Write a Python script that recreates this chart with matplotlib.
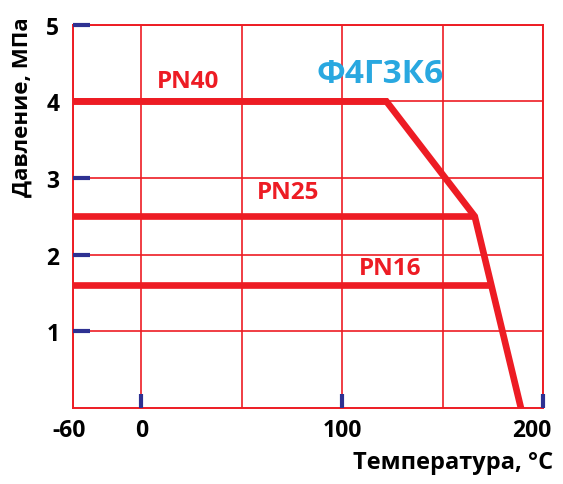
import numpy as np
import matplotlib
matplotlib.use("Agg")
import matplotlib.pyplot as plt
from matplotlib.transforms import ScaledTranslation

# data
pn_labels = ["PN40", "PN25", "PN16"]
pn_values = [4.0, 2.5, 1.6]
pn_t_end = [122, 166, 174]          # where each horizontal limit meets the slope
envelope_t = [-60, 122, 166, 189]
envelope_p = [4.0, 4.0, 2.5, 0.0]
label_t = [23, 73, 124]
label_p = [4.27, 2.82, 1.83]
xticks = [-60, 0, 100, 200]
xminor = [50, 150]
yticks = [1, 2, 3, 4, 5]

RED = "#ed1c24"
BLUE = "#2e3192"
CYAN = "#29a8e0"

plt.rcParams['font.family'] = ['Open Sans', 'DejaVu Sans']
plt.rcParams['axes.unicode_minus'] = False

# the sub-zero part of the axis is compressed
K = 0.565
def fwd(x):
    x = np.asarray(x, dtype=float)
    return np.where(x >= 0, x, x * K)
def inv(x):
    x = np.asarray(x, dtype=float)
    return np.where(x >= 0, x, x / K)

fig = plt.figure(figsize=(5.63, 4.85), dpi=100)
ax = fig.add_axes([0.1302, 0.1567, 0.8343, 0.7903])
ax.set_xscale('function', functions=(fwd, inv))
ax.set_xlim(-60, 200)
ax.set_ylim(0, 5)
ax.set_axisbelow(True)

for s in ax.spines.values():
    s.set_color(RED)
    s.set_linewidth(1.4)
    s.set_zorder(0.4)

ax.set_xticks(xticks)
ax.set_xticklabels([str(t) for t in xticks])
ax.set_xticks(xminor, minor=True)
ax.set_yticks(yticks)
ax.grid(True, which='both', color=RED, linewidth=1.2)

ax.tick_params(axis='both', which='major', direction='in', color=BLUE,
               width=3, labelsize=16.5)
ax.tick_params(axis='y', length=12.5, pad=10)
ax.tick_params(axis='x', length=10, pad=7)
ax.tick_params(axis='x', which='minor', length=0)
ax.xaxis.get_major_ticks()[0].tick1line.set_visible(False)
for lab in ax.get_xticklabels() + ax.get_yticklabels():
    lab.set_fontweight('bold')
xl = ax.get_xticklabels()
xl[-1].set_transform(xl[-1].get_transform() + ScaledTranslation(-11 / 100, 0, fig.dpi_scale_trans))
xl[0].set_transform(xl[0].get_transform() + ScaledTranslation(-4 / 100, 0, fig.dpi_scale_trans))

# envelope and PN limits
ax.plot(envelope_t, envelope_p, color=RED, linewidth=4.8, solid_joinstyle='miter', zorder=3)
for lab, p, te, lt, lp in zip(pn_labels, pn_values, pn_t_end, label_t, label_p):
    ax.plot([-60, te], [p, p], color=RED, linewidth=4.8, solid_capstyle='butt', zorder=3)
    ax.text(lt, lp, lab, color=RED, fontsize=17.5, fontweight='bold',
            ha='center', va='center')

ax.text(119, 4.37, "Ф4Г3К6", color=CYAN, fontsize=24, fontweight='bold',
        ha='center', va='center')

fig.text(22 / 563, 1 - 107 / 485, "Давление, МПа", rotation=90, fontsize=16,
         fontweight='bold', ha='center', va='center')
fig.text(553 / 563, 1 - 463 / 485, "Температура, °C", fontsize=17,
         fontweight='bold', ha='right', va='center')

fig.savefig("out.png", dpi=100)
